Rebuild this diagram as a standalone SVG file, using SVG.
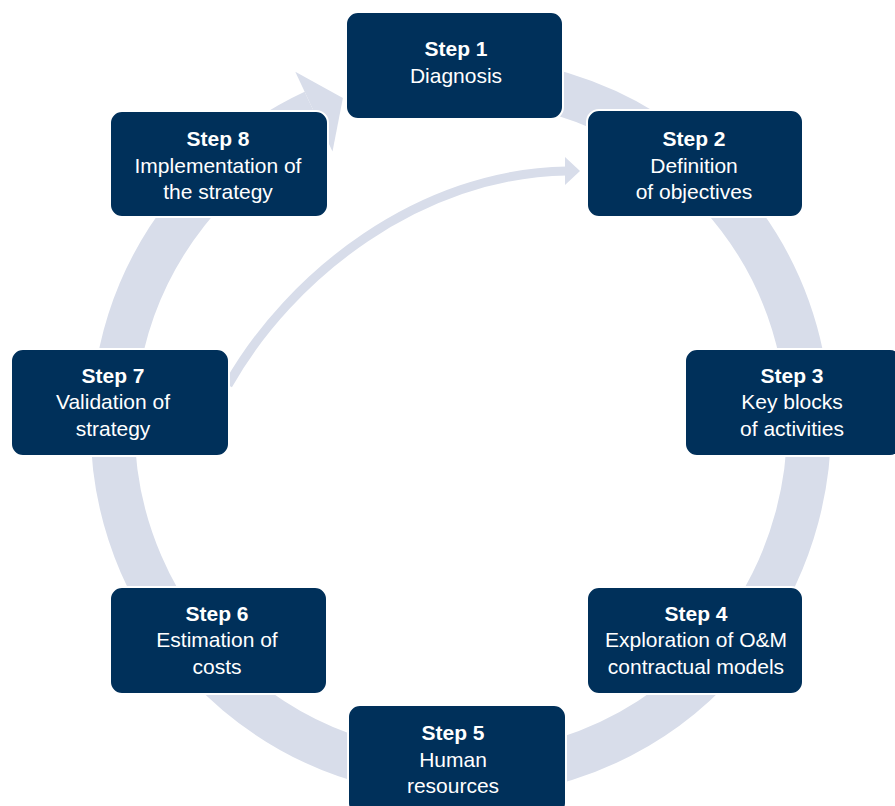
<svg xmlns="http://www.w3.org/2000/svg" width="895" height="806" viewBox="0 0 895 806">
<style>
.box{fill:#00305A;stroke:#ffffff;stroke-width:2}
.ring{fill:none;stroke:#D8DDEA;stroke-width:44}
.thin{fill:none;stroke:#D8DDEA;stroke-width:9}
.head{fill:#D8DDEA}
text{font-family:"Liberation Sans",Arial,sans-serif;font-size:21px;fill:#ffffff;text-anchor:middle}
.b{font-weight:bold}
</style>
<rect width="895" height="806" fill="#ffffff"/>
<g id="connectors">
<path class="ring" d="M 400.6 84.3 A 348 348 0 1 1 313.9 111.6"/>
<polygon class="head" points="295.3,71.7 342.9,98.1 332.5,151.5"/>
<path class="thin" d="M 228 385 C 290 275, 420 173, 567 171"/>
<polygon class="head" points="565,157 580,171 565,185"/>
</g>
<g id="step1">
<rect class="box" x="346" y="12" width="217" height="107" rx="12"/>
<text class="b" x="456" y="56">Step 1</text>
<text x="456" y="83">Diagnosis</text>
</g>
<g id="step2">
<rect class="box" x="587" y="110" width="216" height="107" rx="12"/>
<text class="b" x="694" y="146">Step 2</text>
<text x="694" y="173">Definition</text>
<text x="694" y="199">of objectives</text>
</g>
<g id="step3">
<rect class="box" x="685" y="349" width="217" height="107" rx="12"/>
<text class="b" x="792" y="383">Step 3</text>
<text x="792" y="409">Key blocks</text>
<text x="792" y="436">of activities</text>
</g>
<g id="step4">
<rect class="box" x="587" y="587" width="216" height="107" rx="12"/>
<text class="b" x="696" y="621">Step 4</text>
<text x="696" y="647">Exploration of O&amp;M</text>
<text x="696" y="674">contractual models</text>
</g>
<g id="step5">
<rect class="box" x="348" y="705" width="218" height="110" rx="12"/>
<text class="b" x="453" y="740">Step 5</text>
<text x="453" y="767">Human</text>
<text x="453" y="793">resources</text>
</g>
<g id="step6">
<rect class="box" x="110" y="587" width="217" height="107" rx="12"/>
<text class="b" x="217" y="621">Step 6</text>
<text x="217" y="647">Estimation of</text>
<text x="217" y="674">costs</text>
</g>
<g id="step7">
<rect class="box" x="11" y="349" width="218" height="107" rx="12"/>
<text class="b" x="113" y="383">Step 7</text>
<text x="113" y="409">Validation of</text>
<text x="113" y="436">strategy</text>
</g>
<g id="step8">
<rect class="box" x="110" y="111" width="218" height="106" rx="12"/>
<text class="b" x="218" y="146">Step 8</text>
<text x="218" y="173">Implementation of</text>
<text x="218" y="199">the strategy</text>
</g>
</svg>
